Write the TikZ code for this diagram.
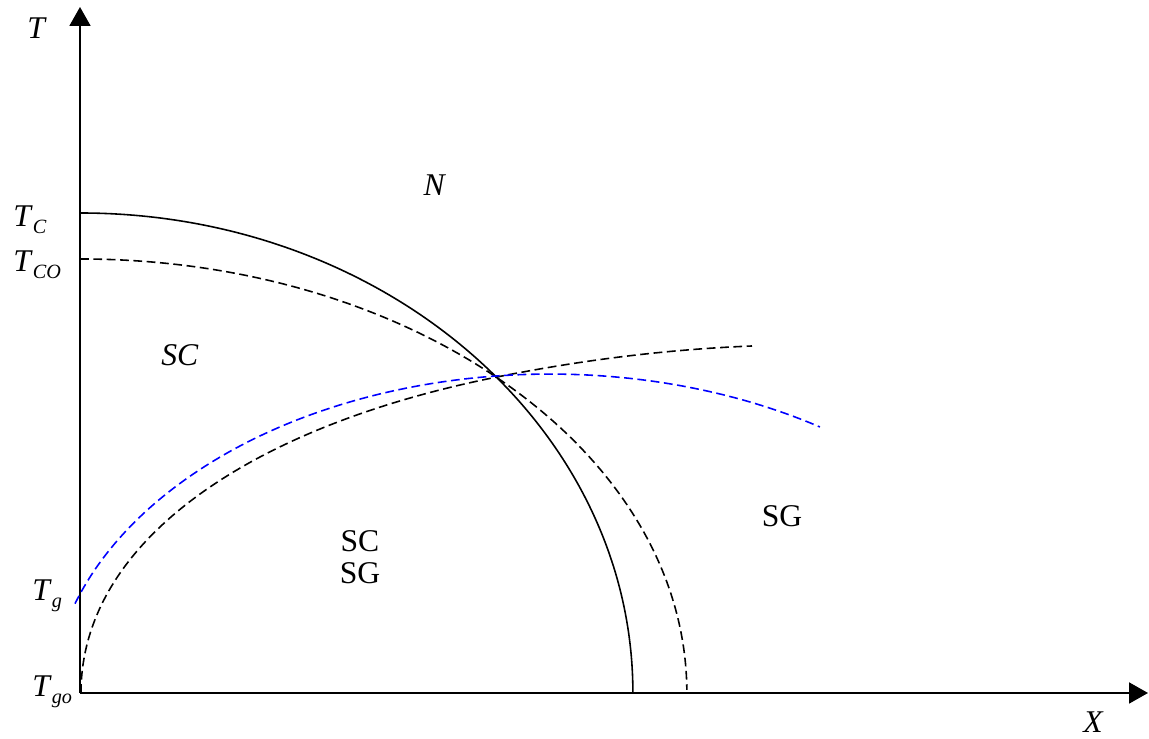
\documentclass[tikz,border=0pt]{standalone}
\usepackage{fontspec}
\setmainfont{Liberation Serif}
\usepackage{tikz}
\usetikzlibrary{arrows.meta,positioning}
\usepackage{xcolor}
\definecolor{Ink}{HTML}{000000}
\definecolor{GlassBlue}{HTML}{0000FF}
\newcommand{\lblfont}{\fontsize{18}{21}\selectfont}
\newcommand{\Tsub}[1]{\textit{T}\raisebox{-3.6pt}{\fontsize{11.5}{12}\selectfont\textit{#1}}}
\tikzset{
  axisarr/.style={-{Triangle[length=0.38cm,width=0.42cm]}, line width=1.1pt, color=Ink},
  phaseline/.style={line width=0.9pt, color=Ink},
  phasedash/.style={phaseline, dash pattern=on 5pt off 2.6pt},
  glassdash/.style={line width=0.9pt, color=GlassBlue, dash pattern=on 5pt off 2.6pt},
  axlbl/.style={inner sep=0pt, anchor=base west, font=\lblfont},
  region/.style={inner sep=0pt, font=\lblfont, align=center},
}

\begin{document}
\begin{tikzpicture}[x=0.02cm, y=0.02cm]
  \useasboundingbox (-80,-46) rectangle (1069,693);

  % axes
  \coordinate (O) at (0,0);
  \coordinate (Ttop) at (0,686);
  \coordinate (Xend) at (1068,0);
  \draw[axisarr] (O) -- (Ttop);
  \draw[axisarr] (O) -- (Xend);

  % axis labels
  \node[axlbl] (tlbl) at (-53,654) {\textit{T}};
  \node[axlbl] (xlbl) at (1003,-40) {\textit{X}};
  \node[axlbl] (tc) at (-67,466) {\Tsub{C}};
  \node[axlbl] (tco) at (-67,421) {\Tsub{CO}};
  \node[axlbl] (tg) at (-48,92) {\Tsub{g}};
  \node[axlbl] (tgo) at (-48,-4) {\Tsub{go}};

  % phase boundaries
  \coordinate (cross) at (417,316);
  \draw[phaseline] (0,480) arc[start angle=90, end angle=0, x radius=11.06cm, y radius=9.6cm];
  \draw[phasedash] (0,434) arc[start angle=90, end angle=0.4, x radius=12.14cm, y radius=8.68cm];
  \draw[phasedash] (1,0) .. controls (1,150) and (167,266) .. (cross)
    .. controls (502,333) and (587,343.6) .. (672,347);
  \draw[glassdash] (-5,89.3) arc[start angle=161.8, end angle=57.3, x radius=10cm, y radius=6.68cm];

  % regions
  \node[region] (nrm) at (355,508) {\textit{N}};
  \node[region] (sc) at (100,338) {\textit{SC}};
  \node[region] (mix) at (280,136) {SC\\[-3pt]SG};
  \node[region] (sg) at (702,177) {SG};
\end{tikzpicture}
\end{document}
